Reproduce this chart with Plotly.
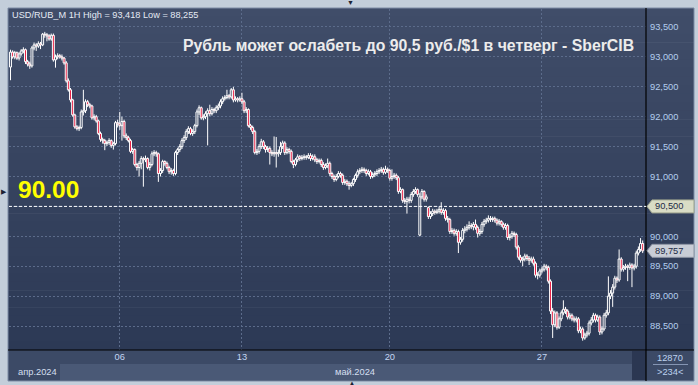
import plotly.graph_objects as go

# ---------------- data ----------------
opens = [
    92.83, 93.08, 93.00, 93.07, 92.98, 93.05, 93.10, 93.12, 92.92, 92.88,
    92.85, 93.15, 93.20, 93.18, 93.22, 93.20, 93.38, 93.37, 93.35, 93.30,
    93.36, 92.95, 93.00, 93.02, 93.00, 92.98, 92.90, 92.60, 92.45, 92.28,
    92.03, 91.83, 91.80, 91.82, 92.08, 92.10, 92.25, 92.20, 92.18, 91.98,
    92.00, 91.93, 91.72, 91.62, 91.60, 91.55, 91.57, 91.60, 91.52, 91.55,
    91.90, 91.88, 91.85, 91.92, 91.68, 91.65, 91.60, 91.42, 91.45, 91.20,
    91.15, 91.22, 91.30, 91.28, 91.30, 91.15, 91.20, 91.38, 91.40, 91.38,
    91.05, 91.10, 91.25, 91.22, 91.15, 91.08, 91.10, 91.05, 91.40, 91.45,
    91.50, 91.60, 91.65, 91.75, 91.80, 91.72, 91.75, 91.85, 92.08, 92.15,
    91.98, 92.00, 92.05, 92.10, 92.05, 92.12, 92.10, 92.15, 92.18, 92.25,
    92.30, 92.32, 92.35, 92.33, 92.45, 92.28, 92.30, 92.28, 92.30, 92.25,
    92.10, 92.12, 91.85, 91.82, 91.75, 91.40, 91.42, 91.50, 91.58, 91.50,
    91.45, 91.47, 91.40, 91.38, 91.40, 91.38, 91.40, 91.50, 91.56, 91.40,
    91.45, 91.42, 91.25, 91.20, 91.28, 91.33, 91.30, 91.32, 91.33, 91.32,
    91.35, 91.30, 91.33, 91.28, 91.25, 91.27, 91.20, 91.15, 91.18, 91.22,
    91.05, 91.00, 90.95, 91.00, 91.05, 91.02, 90.90, 90.92, 90.88, 90.85,
    90.88, 90.95, 91.02, 91.08, 91.10, 91.12, 91.10, 91.05, 91.08, 91.00,
    91.03, 91.05, 91.08, 91.10, 91.12, 91.07, 91.12, 91.10, 90.97, 91.00,
    91.02, 90.98, 90.75, 90.78, 90.60, 90.58, 90.62, 90.60, 90.70, 90.75,
    90.78, 90.02, 90.66, 90.75, 90.62, 90.48, 90.33, 90.38, 90.42, 90.40,
    90.42, 90.45, 90.40, 90.43, 90.30, 90.28, 90.08, 90.10, 90.05, 90.08,
    89.90, 89.95, 90.10, 90.12, 90.15, 90.18, 90.16, 90.20, 90.15, 90.05,
    90.08, 90.20, 90.25, 90.27, 90.30, 90.28, 90.30, 90.27, 90.22, 90.25,
    90.20, 90.15, 90.18, 89.98, 90.00, 90.05, 90.03, 89.82, 89.65, 89.60,
    89.62, 89.67, 89.63, 89.60, 89.62, 89.55, 89.35, 89.35, 89.42, 89.45,
    89.50, 89.48, 89.25, 88.75, 88.52, 88.72, 88.48, 88.62, 88.72, 88.78,
    88.75, 88.65, 88.68, 88.62, 88.60, 88.62, 88.42, 88.45, 88.30, 88.35,
    88.38, 88.55, 88.60, 88.68, 88.60, 88.65, 88.40, 88.45, 88.68, 88.72,
    89.00, 89.05, 89.15, 89.30, 89.27, 89.62, 89.45, 89.48, 89.50, 89.48,
    89.52, 89.47, 89.50, 89.72, 89.78, 89.88,
]
closes = [
    93.08, 93.00, 93.07, 92.98, 93.05, 93.10, 93.12, 92.92, 92.88, 92.85,
    93.15, 93.20, 93.18, 93.22, 93.20, 93.38, 93.37, 93.35, 93.30, 93.36,
    92.95, 93.00, 93.02, 93.00, 92.98, 92.90, 92.60, 92.45, 92.28, 92.03,
    91.83, 91.80, 91.82, 92.08, 92.10, 92.25, 92.20, 92.18, 91.98, 92.00,
    91.93, 91.72, 91.62, 91.60, 91.55, 91.57, 91.60, 91.52, 91.55, 91.90,
    91.88, 91.85, 91.92, 91.68, 91.65, 91.60, 91.42, 91.45, 91.20, 91.15,
    91.22, 91.30, 91.28, 91.30, 91.15, 91.20, 91.38, 91.40, 91.38, 91.05,
    91.10, 91.25, 91.22, 91.15, 91.08, 91.10, 91.05, 91.40, 91.45, 91.50,
    91.60, 91.65, 91.75, 91.80, 91.72, 91.75, 91.85, 92.08, 92.15, 91.98,
    92.00, 92.05, 92.10, 92.05, 92.12, 92.10, 92.15, 92.18, 92.25, 92.30,
    92.32, 92.35, 92.33, 92.45, 92.28, 92.30, 92.28, 92.30, 92.25, 92.10,
    92.12, 91.85, 91.82, 91.75, 91.40, 91.42, 91.50, 91.58, 91.50, 91.45,
    91.47, 91.40, 91.38, 91.40, 91.38, 91.40, 91.50, 91.56, 91.40, 91.45,
    91.42, 91.25, 91.20, 91.28, 91.33, 91.30, 91.32, 91.33, 91.32, 91.35,
    91.30, 91.33, 91.28, 91.25, 91.27, 91.20, 91.15, 91.18, 91.22, 91.05,
    91.00, 90.95, 91.00, 91.05, 91.02, 90.90, 90.92, 90.88, 90.85, 90.88,
    90.95, 91.02, 91.08, 91.10, 91.12, 91.10, 91.05, 91.08, 91.00, 91.03,
    91.05, 91.08, 91.10, 91.12, 91.07, 91.12, 91.10, 90.97, 91.00, 91.02,
    90.98, 90.75, 90.78, 90.60, 90.58, 90.62, 90.60, 90.70, 90.75, 90.78,
    90.70, 90.66, 90.75, 90.62, 90.66, 90.33, 90.38, 90.42, 90.40, 90.42,
    90.45, 90.40, 90.43, 90.30, 90.28, 90.08, 90.10, 90.05, 90.08, 89.90,
    89.95, 90.10, 90.12, 90.15, 90.18, 90.16, 90.20, 90.15, 90.05, 90.08,
    90.20, 90.25, 90.27, 90.30, 90.28, 90.30, 90.27, 90.22, 90.25, 90.20,
    90.15, 90.18, 89.98, 90.00, 90.05, 90.03, 89.82, 89.65, 89.60, 89.62,
    89.67, 89.63, 89.60, 89.62, 89.55, 89.35, 89.35, 89.42, 89.45, 89.50,
    89.48, 89.25, 88.75, 88.52, 88.72, 88.48, 88.62, 88.72, 88.78, 88.75,
    88.65, 88.68, 88.62, 88.60, 88.62, 88.42, 88.45, 88.30, 88.35, 88.38,
    88.55, 88.60, 88.68, 88.60, 88.65, 88.40, 88.45, 88.68, 88.72, 89.00,
    89.05, 89.15, 89.30, 89.27, 89.62, 89.45, 89.48, 89.50, 89.48, 89.52,
    89.47, 89.50, 89.72, 89.78, 89.88, 89.757,
]
highs = [
    93.12, 93.11, 93.10, 93.09, 93.08, 93.13, 93.16, 93.14, 92.95, 92.92,
    93.18, 93.24, 93.23, 93.26, 93.25, 93.40, 93.418, 93.40, 93.38, 93.39,
    93.39, 93.04, 93.06, 93.05, 93.04, 93.00, 92.93, 92.64, 92.48, 92.30,
    92.05, 91.86, 91.85, 92.12, 92.45, 92.29, 92.28, 92.23, 92.20, 92.04,
    92.03, 91.95, 91.75, 91.65, 91.63, 91.60, 91.64, 91.62, 91.58, 91.93,
    91.95, 92.08, 92.00, 91.95, 91.72, 91.68, 91.63, 91.48, 91.47, 91.23,
    91.26, 91.34, 91.33, 91.35, 91.32, 91.24, 91.42, 91.44, 91.43, 91.40,
    91.14, 91.28, 91.27, 91.25, 91.18, 91.14, 91.13, 91.43, 91.48, 91.54,
    91.64, 91.69, 91.79, 91.84, 91.83, 91.79, 91.88, 92.12, 92.19, 92.17,
    92.04, 92.09, 92.14, 92.20, 92.16, 92.15, 92.19, 92.22, 92.29, 92.34,
    92.36, 92.45, 92.38, 92.48, 92.50, 92.34, 92.33, 92.34, 92.40, 92.28,
    92.16, 92.14, 91.88, 91.85, 91.78, 91.46, 91.54, 91.63, 91.61, 91.53,
    91.51, 91.50, 91.44, 91.67, 91.66, 91.45, 91.58, 91.60, 91.59, 91.49,
    91.48, 91.45, 91.28, 91.31, 91.37, 91.36, 91.36, 91.37, 91.36, 91.39,
    91.39, 91.37, 91.37, 91.31, 91.30, 91.30, 91.24, 91.22, 91.30, 91.25,
    91.08, 91.03, 91.04, 91.09, 91.08, 91.05, 90.96, 90.95, 90.92, 90.91,
    90.98, 91.05, 91.12, 91.14, 91.16, 91.15, 91.13, 91.12, 91.11, 91.07,
    91.09, 91.12, 91.14, 91.16, 91.15, 91.18, 91.15, 91.13, 91.12, 91.06,
    91.05, 91.01, 90.82, 90.80, 90.64, 90.66, 90.66, 90.74, 90.79, 90.82,
    90.80, 90.72, 90.79, 90.77, 90.70, 90.50, 90.42, 90.46, 90.45, 90.46,
    90.49, 90.57, 90.47, 90.46, 90.34, 90.31, 90.14, 90.13, 90.12, 90.11,
    89.99, 90.14, 90.17, 90.20, 90.25, 90.22, 90.24, 90.28, 90.18, 90.12,
    90.24, 90.29, 90.31, 90.35, 90.34, 90.33, 90.33, 90.30, 90.29, 90.27,
    90.23, 90.22, 90.21, 90.04, 90.09, 90.08, 90.06, 89.85, 89.69, 89.66,
    89.71, 89.70, 89.67, 89.66, 89.66, 89.58, 89.40, 89.46, 89.49, 89.54,
    89.53, 89.51, 89.28, 88.80, 88.76, 88.75, 88.66, 88.76, 88.93, 88.82,
    88.78, 88.72, 88.71, 88.66, 88.66, 88.65, 88.49, 88.48, 88.39, 88.42,
    88.59, 88.65, 88.72, 88.71, 88.69, 88.68, 88.49, 88.72, 88.77, 89.33,
    89.10, 89.20, 89.34, 89.33, 89.78, 89.65, 89.52, 89.54, 89.53, 89.56,
    89.55, 89.54, 89.76, 89.83, 89.97, 89.93,
]
lows = [
    92.61, 92.97, 92.96, 92.95, 92.94, 93.02, 93.06, 92.88, 92.84, 92.80,
    92.82, 93.11, 93.10, 93.15, 93.13, 93.18, 93.32, 93.26, 93.27, 93.27,
    92.92, 92.82, 92.96, 92.97, 92.94, 92.87, 92.57, 92.42, 92.24, 92.00,
    91.80, 91.77, 91.76, 91.79, 92.02, 92.06, 92.16, 92.14, 91.95, 91.94,
    91.90, 91.69, 91.58, 91.55, 91.44, 91.51, 91.53, 91.48, 91.45, 91.52,
    91.82, 91.78, 91.60, 91.64, 91.61, 91.57, 91.39, 91.38, 91.17, 91.10,
    91.00, 91.12, 90.83, 91.24, 91.12, 91.10, 91.17, 91.34, 91.33, 90.91,
    91.00, 91.06, 91.18, 91.12, 91.04, 91.03, 91.01, 91.02, 91.36, 91.41,
    91.46, 91.56, 91.61, 91.71, 91.69, 91.68, 91.71, 91.82, 92.03, 91.95,
    91.94, 91.96, 91.52, 92.01, 92.02, 92.06, 92.06, 92.11, 92.14, 92.21,
    92.27, 92.29, 92.29, 92.30, 92.24, 92.25, 92.24, 92.25, 92.21, 92.06,
    92.06, 91.82, 91.78, 91.71, 91.37, 91.36, 91.38, 91.46, 91.46, 91.40,
    91.41, 91.20, 91.34, 91.33, 91.15, 91.33, 91.36, 91.46, 91.36, 91.37,
    91.38, 91.22, 91.14, 91.17, 91.24, 91.26, 91.27, 91.28, 91.28, 91.29,
    91.26, 91.27, 91.24, 91.21, 91.22, 91.16, 91.11, 91.12, 91.14, 91.01,
    90.96, 90.91, 90.92, 90.97, 90.98, 90.86, 90.86, 90.84, 90.78, 90.82,
    90.84, 90.91, 90.98, 91.04, 91.06, 91.06, 91.01, 91.02, 90.96, 90.97,
    90.99, 91.01, 91.04, 91.06, 91.03, 91.04, 91.06, 90.93, 90.93, 90.96,
    90.94, 90.71, 90.72, 90.56, 90.54, 90.38, 90.55, 90.56, 90.66, 90.71,
    90.66, 90.00, 90.62, 90.58, 90.58, 90.29, 90.29, 90.34, 90.36, 90.37,
    90.38, 90.36, 90.36, 90.26, 90.23, 90.04, 90.04, 90.01, 90.01, 89.72,
    89.86, 89.91, 90.05, 90.08, 90.11, 90.12, 90.10, 90.11, 89.98, 90.01,
    90.04, 90.16, 90.21, 90.23, 90.24, 90.24, 90.23, 90.18, 90.18, 90.16,
    90.11, 90.11, 89.94, 89.93, 89.96, 89.99, 89.78, 89.61, 89.56, 89.50,
    89.58, 89.59, 89.52, 89.56, 89.51, 89.31, 89.28, 89.31, 89.38, 89.41,
    89.43, 89.21, 88.70, 88.30, 88.48, 88.44, 88.45, 88.58, 88.68, 88.70,
    88.61, 88.61, 88.58, 88.56, 88.56, 88.38, 88.38, 88.255, 88.27, 88.31,
    88.34, 88.51, 88.56, 88.56, 88.57, 88.35, 88.36, 88.42, 88.64, 88.68,
    88.95, 88.82, 89.11, 89.22, 89.24, 89.41, 89.41, 89.44, 89.25, 89.44,
    89.15, 89.43, 89.46, 89.68, 89.74, 89.72,
]
bar_index = list(range(len(closes)))

day_tick_bars = [51, 108, 177, 248]
day_tick_labels = ["06", "13", "20", "27"]
price_ticks = [88.5, 89.0, 89.5, 90.0, 90.5, 91.0, 91.5, 92.0, 92.5, 93.0, 93.5]
price_tick_labels = ["88,500", "89,000", "89,500", "90,000", "90,500", "91,000",
                     "91,500", "92,000", "92,500", "93,000", "93,500"]
level_value = 90.5
level_label = "90,500"
last_value = 89.757
last_label = "89,757"
info_text = "USD/RUB_M 1H High = 93,418 Low = 88,255"
headline = "Рубль может ослабеть до 90,5 руб./$1 в четверг - SberCIB"
big_level_text = "90.00"
month_labels = ["апр.2024", "май.2024"]
bars_total_text = "12870"
bars_shown_text = ">234<"

# ---------------- geometry / style ----------------
W, H = 698, 385
PX0, PX1 = 9, 646          # plot area, pixels
PY0, PY1 = 8.5, 350        # plot area top/bottom, pixels
PANEL_R = 694
YMIN, YMAX = 88.099, 93.809
XMIN, XMAX = -0.70, 296.55
FONT = "Liberation Sans, Arial, sans-serif"
OUTER = "#c3ceda"
UP_FILL = "rgba(0,0,0,0)"
DOWN_FILL = "#e8143a"
CANDLE_LINE = "#ffffff"


def fx(x):
    return x / W


def fy(y):
    return 1 - y / H


def vy(v):
    return fy(PY1) + (v - YMIN) / (YMAX - YMIN) * (fy(PY0) - fy(PY1))


shapes = []
# gradient background of chart panel
top_rgb = (64, 77, 105)
bot_rgb = (44, 57, 85)
N = 40
for k in range(N):
    t = (k + 0.5) / N
    c = tuple(int(round(top_rgb[j] + (bot_rgb[j] - top_rgb[j]) * t)) for j in range(3))
    ya = PY0 - 0.5 + (PY1 - PY0 + 0.5) * k / N
    yb = PY0 - 0.5 + (PY1 - PY0 + 0.5) * (k + 1) / N + 0.6
    shapes.append(dict(type="rect", xref="paper", yref="paper", x0=fx(8), x1=fx(PANEL_R),
                       y0=fy(yb), y1=fy(ya), fillcolor="rgb(%d,%d,%d)" % c,
                       line=dict(width=0), layer="below"))
# bottom axis strips
shapes += [
    dict(type="rect", xref="paper", yref="paper", x0=fx(8), x1=fx(PANEL_R), y0=fy(381), y1=fy(350),
         fillcolor="#3c4a66", line=dict(width=0), layer="below"),
    dict(type="rect", xref="paper", yref="paper", x0=fx(60), x1=fx(632), y0=fy(380), y1=fy(364),
         fillcolor="#4a5976", line=dict(width=0), layer="below"),
    dict(type="rect", xref="paper", yref="paper", x0=fx(632), x1=fx(646), y0=fy(380), y1=fy(351),
         fillcolor="#2b3752", line=dict(width=0), layer="below"),
    dict(type="line", xref="paper", yref="paper", x0=fx(653), x1=fx(688), y0=fy(364.5), y1=fy(364.5),
         line=dict(color="#8595b3", width=1), layer="below"),
    # frame lines
    dict(type="line", xref="paper", yref="paper", x0=fx(PX1), x1=fx(PX1), y0=fy(8), y1=fy(381),
         line=dict(color="#000000", width=1.2), layer="above"),
    dict(type="line", xref="paper", yref="paper", x0=fx(8), x1=fx(PANEL_R), y0=fy(PY1), y1=fy(PY1),
         line=dict(color="#000000", width=1.2), layer="above"),
    dict(type="rect", xref="paper", yref="paper", x0=fx(8), x1=fx(PANEL_R), y0=fy(381), y1=fy(8),
         line=dict(color="#7d8ca5", width=1), fillcolor="rgba(0,0,0,0)", layer="below"),
    # level line
    dict(type="line", xref="paper", yref="y", x0=fx(PX0), x1=fx(PX1), y0=level_value, y1=level_value,
         line=dict(color="#ffffff", width=1, dash="3px,2px"), layer="above"),
]


def tag(value, fill, border):
    yc = vy(value)
    hh = 6.5 / H
    path = "M %f %f L %f %f L %f %f L %f %f L %f %f Z" % (
        fx(PX1 + 1), yc, fx(652), yc + hh, fx(PANEL_R), yc + hh,
        fx(PANEL_R), yc - hh, fx(652), yc - hh)
    return dict(type="path", xref="paper", yref="paper", path=path, fillcolor=fill,
                line=dict(color=border, width=1), layer="above")


shapes.append(tag(level_value, "#d9dcc5", "#9ea48e"))
shapes.append(tag(last_value, "#c9cdd6", "#8f96a4"))

small = dict(family=FONT, size=9.3, color="#bdd2f0")
annotations = [
    dict(xref="paper", yref="paper", x=fx(10), y=fy(15), text=info_text, showarrow=False,
         xanchor="left", yanchor="middle", font=dict(family=FONT, size=9.2, color="#e4eaf4")),
    dict(xref="paper", yref="paper", x=fx(636), y=fy(45.5), text="<b>%s</b>" % headline, showarrow=False,
         xanchor="right", yanchor="middle", font=dict(family=FONT, size=15.8, color="#ececec")),
    dict(xref="paper", yref="paper", x=fx(16), y=fy(189), text="<b>%s</b>" % big_level_text,
         showarrow=False, xanchor="left", yanchor="middle",
         font=dict(family=FONT, size=24.5, color="#ffff00")),
    dict(xref="paper", yref="y", x=fx(653), y=level_value, text=level_label, showarrow=False,
         xanchor="left", yanchor="middle", font=dict(family=FONT, size=9.3, color="#1d2a45")),
    dict(xref="paper", yref="y", x=fx(653), y=last_value, text=last_label, showarrow=False,
         xanchor="left", yanchor="middle", font=dict(family=FONT, size=9.3, color="#1d2a45")),
    dict(xref="paper", yref="paper", x=fx(16), y=fy(371.5), text=month_labels[0], showarrow=False,
         xanchor="left", yanchor="middle", font=dict(family=FONT, size=9.3, color="#d4dff0")),
    dict(xref="paper", yref="paper", x=fx(333), y=fy(371.5), text=month_labels[1], showarrow=False,
         xanchor="left", yanchor="middle", font=dict(family=FONT, size=9.3, color="#d4dff0")),
    dict(xref="paper", yref="paper", x=fx(670), y=fy(357.5), text=bars_total_text, showarrow=False,
         xanchor="center", yanchor="middle", font=small),
    dict(xref="paper", yref="paper", x=fx(670), y=fy(371.5), text=bars_shown_text, showarrow=False,
         xanchor="center", yanchor="middle", font=small),
    dict(xref="paper", yref="paper", x=fx(350), y=fy(2.5), text="▼", showarrow=False,
         xanchor="center", yanchor="middle", font=dict(family=FONT, size=7, color="#1b2233")),
    dict(xref="paper", yref="paper", x=fx(352), y=fy(382.5), text="▲", showarrow=False,
         xanchor="center", yanchor="middle", font=dict(family=FONT, size=6, color="#1b2233")),
    dict(xref="paper", yref="paper", x=fx(4), y=fy(192), text="▶", showarrow=False,
         xanchor="center", yanchor="middle", font=dict(family=FONT, size=7, color="#1b2233")),
]

# the 90,500 grid label sits under the level tag, so the axis itself leaves it blank
axis_tick_text = ["" if v == level_value else t for v, t in zip(price_ticks, price_tick_labels)]

# ---- candles: bodies as bars, wicks as line segments (both from the OHLC lists) ----
body_base = [min(o, c) for o, c in zip(opens, closes)]
body_size = [max(abs(c - o), 0.004) for o, c in zip(opens, closes)]
body_fill = [DOWN_FILL if c < o else UP_FILL for o, c in zip(opens, closes)]
wick_x, wick_y = [], []
for i, o, c, h, l in zip(bar_index, opens, closes, highs, lows):
    top, bot = max(o, c), min(o, c)
    if h > top:
        wick_x += [i, i, None]
        wick_y += [top, h, None]
    if l < bot:
        wick_x += [i, i, None]
        wick_y += [l, bot, None]

fig = go.Figure()
fig.add_trace(go.Bar(
    x=bar_index, y=body_size, base=body_base, width=0.9,
    marker=dict(color=body_fill, line=dict(color=CANDLE_LINE, width=1)),
    hoverinfo="skip", showlegend=False,
))
fig.add_trace(go.Scatter(
    x=wick_x, y=wick_y, mode="lines", line=dict(color=CANDLE_LINE, width=1),
    hoverinfo="skip", showlegend=False,
))

fig.update_layout(
    width=W, height=H, margin=dict(l=0, r=0, t=0, b=0),
    paper_bgcolor=OUTER, plot_bgcolor="rgba(0,0,0,0)",
    showlegend=False, dragmode=False,
    shapes=shapes, annotations=annotations,
    xaxis=dict(domain=[fx(PX0), fx(PX1)], range=[XMIN, XMAX],
               tickmode="array", tickvals=day_tick_bars, ticktext=day_tick_labels,
               showgrid=True, gridcolor="#5c6c8b", griddash="2px,2px", gridwidth=1,
               zeroline=False, showline=False, ticks="",
               tickfont=dict(family=FONT, size=9.3, color="#c3d6f2")),
    yaxis=dict(domain=[fy(PY1), fy(PY0)], range=[YMIN, YMAX], side="right",
               tickmode="array", tickvals=price_ticks, ticktext=axis_tick_text,
               showgrid=True, gridcolor="#5c6c8b", griddash="2px,2px", gridwidth=1,
               zeroline=False, showline=False, ticks="", ticklabelstandoff=3,
               tickfont=dict(family=FONT, size=9.3, color="#b4cdee")),
)

page_fix = ("document.body.style.margin='0';document.body.style.padding='0';"
            "document.body.style.background='%s';document.body.style.overflow='hidden';" % OUTER)
fig.write_html("out.html", config=dict(displayModeBar=False, staticPlot=True), post_script=page_fix)
